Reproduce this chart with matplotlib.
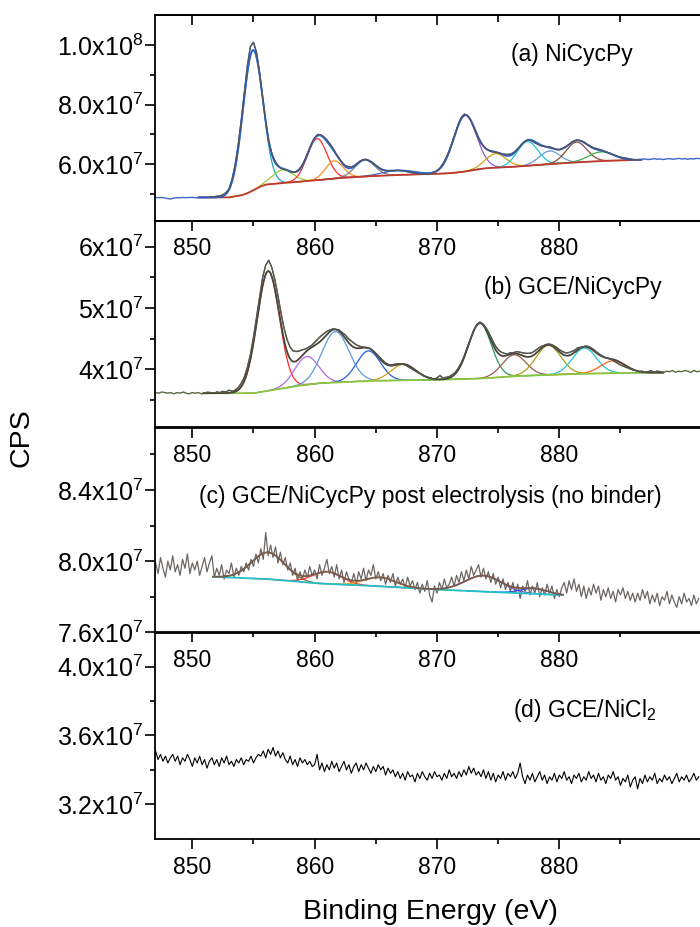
import numpy as np
import matplotlib.pyplot as plt

plt.rcParams['font.family'] = ['Liberation Sans', 'DejaVu Sans']
plt.rcParams['mathtext.fontset'] = 'custom'
plt.rcParams['mathtext.rm'] = 'Liberation Sans'
plt.rcParams['mathtext.default'] = 'regular'

# binding energy grid start (eV); all intensities in units of 1e6 CPS
e_start = 847.0
step_ab = 0.25
step_cd = 0.2

# (a) NiCycPy raw spectrum, 0.25 eV steps
raw_a = [48.9, 48.8, 48.9, 48.7, 48.5, 48.4, 48.7, 48.8, 48.8, 48.9,
         48.8, 48.9, 48.9, 48.8, 48.9, 49.0, 49.1, 49.0, 49.2, 49.1,
         49.3, 49.4, 49.8, 50.5, 51.7, 55.0, 59.8, 66.5, 74.8, 84.0,
         93.0, 99.5, 100.9, 97.5, 90.8, 82.5, 74.3, 67.6, 63.5, 61.2,
         59.6, 58.6, 58.3, 58.0, 57.4, 57.3, 57.6, 58.4, 59.8, 62.0,
         64.5, 67.0, 68.9, 70.0, 69.9, 69.2, 68.2, 66.8, 65.3, 63.6,
         62.0, 60.6, 59.6, 59.2, 59.1, 59.6, 60.4, 61.2, 61.6, 61.6,
         61.0, 60.5, 59.7, 58.9, 58.2, 57.9, 57.8, 57.9, 57.9, 58.0,
         57.9, 57.8, 57.6, 57.4, 57.2, 57.0, 56.8, 56.7, 56.7, 56.6,
         56.9, 57.4, 57.8, 58.8, 60.2, 62.2, 64.6, 67.5, 70.5, 73.5,
         75.8, 76.8, 76.3, 74.8, 72.4, 69.8, 67.7, 66.3, 65.2, 64.6,
         64.2, 64.0, 63.9, 63.6, 63.4, 63.3, 63.4, 63.9, 64.8, 65.9,
         67.0, 67.9, 68.2, 67.8, 67.2, 66.7, 66.2, 66.0, 65.9, 65.8,
         65.4, 65.0, 64.9, 65.3, 65.9, 66.5, 67.4, 67.9, 68.1, 67.9,
         67.5, 66.8, 66.2, 65.6, 65.3, 65.0, 64.7, 64.2, 63.9, 63.5,
         63.1, 62.7, 62.4, 62.2, 62.0, 61.8, 61.6, 61.5, 61.6, 61.7,
         61.8, 61.6, 61.7, 61.9, 61.7, 61.8, 61.6, 61.8, 61.9, 61.7,
         61.8, 62.0, 61.8, 61.9, 61.7, 61.9, 61.8, 62.0, 61.9]

# (b) GCE/NiCycPy raw spectrum, 0.25 eV steps
raw_b = [36.2, 36.1, 36.3, 36.2, 36.1, 36.2, 36.0, 36.2, 36.1, 36.3,
         36.1, 36.0, 36.2, 36.1, 36.2, 36.0, 36.1, 36.3, 36.2, 36.1,
         36.3, 36.2, 36.4, 36.3, 36.6, 36.4, 36.6, 37.0, 37.7, 38.7,
         40.3, 42.4, 45.2, 48.5, 51.8, 55.0, 57.0, 57.8, 56.6, 54.6,
         52.0, 49.2, 46.7, 44.8, 43.6, 43.0, 42.9, 43.0, 43.2, 43.3,
         43.6, 43.9, 44.4, 44.9, 45.4, 45.8, 46.2, 46.4, 46.6, 46.5,
         46.4, 46.0, 45.6, 45.0, 44.6, 44.2, 43.9, 43.7, 43.6, 43.5,
         43.4, 43.1, 42.6, 42.1, 41.6, 41.1, 40.8, 40.7, 40.8, 40.9,
         40.9, 40.8, 40.6, 40.3, 40.0, 39.7, 39.4, 39.2, 38.9, 38.7,
         38.6, 38.3, 38.6, 39.0, 38.5, 38.7, 38.8, 39.1, 39.5, 40.2,
         41.1, 42.3, 43.7, 45.0, 46.3, 47.3, 47.7, 47.4, 46.8, 45.9,
         44.9, 43.9, 43.2, 42.8, 42.6, 42.5, 42.7, 42.7, 42.9, 42.8,
         42.7, 42.6, 42.6, 42.7, 43.0, 43.4, 43.7, 43.9, 44.1, 44.1,
         43.9, 43.6, 43.2, 42.9, 42.7, 42.7, 42.9, 43.1, 43.5, 43.6,
         43.7, 43.8, 43.6, 43.3, 42.9, 42.5, 42.2, 41.9, 41.8, 41.6,
         41.3, 41.0, 40.7, 40.5, 40.3, 40.1, 39.9, 39.8, 39.6, 39.7,
         39.5, 39.6, 39.8, 39.5, 39.7, 39.6, 39.5, 39.7, 39.6, 39.8,
         39.5, 39.7, 39.6, 39.8, 39.7, 39.5, 39.8, 39.6, 39.7]

# (c) GCE/NiCycPy post electrolysis, 0.2 eV steps
raw_c = [79.9, 79.3, 80.2, 79.6, 79.1, 80.0, 79.5, 80.3, 79.4, 79.8,
         79.2, 80.1, 79.6, 80.4, 79.3, 79.9, 79.5, 80.0, 79.2, 79.7,
         80.2, 79.4, 79.9, 80.3, 79.1,
         79.6, 79.2, 79.8, 79.0, 79.5, 79.3, 79.9, 79.1, 79.6, 79.2,
         79.7, 79.4, 79.9,
         79.5, 80.1, 79.7, 80.4, 79.9, 80.7, 80.1, 81.6, 80.3, 80.9,
         80.2, 80.8, 79.9, 80.5, 79.8, 80.2, 79.5, 79.9,
         79.2, 79.6, 78.9, 79.4, 79.0, 79.5, 79.1, 79.7, 79.2,
         79.5, 79.0, 79.8, 79.2, 79.6, 80.1, 79.3, 79.7, 79.1, 79.8,
         79.0, 79.5, 78.8, 79.4, 79.0,
         78.8, 79.3, 78.7, 79.4, 79.0, 79.6, 78.9, 79.5, 79.2, 79.8,
         79.0, 79.4, 78.9, 79.3, 78.7, 79.2, 78.8, 79.3, 78.6, 79.1,
         78.7, 79.0, 78.5, 79.1, 78.6,
         78.9, 78.4, 78.8, 78.2, 78.7, 78.3, 78.9, 78.1, 77.7, 78.6,
         78.2, 78.8, 78.4, 79.0, 78.5,
         78.7, 79.1, 78.6, 79.2, 78.8, 79.4, 78.9, 79.5, 79.0, 79.7,
         79.2, 79.5, 79.8, 79.1, 79.6, 79.0, 79.4, 78.8, 79.3, 78.7,
         79.1, 78.5, 79.0, 78.4, 78.8,
         78.3, 78.8, 78.2, 78.7, 77.9, 78.6, 78.3, 78.9, 78.1, 78.6,
         78.2, 78.8, 78.0, 78.5, 78.1, 78.7, 78.2, 78.6, 77.9, 78.4,
         78.0, 78.5,
         78.8, 78.2, 78.9, 78.4, 79.0, 78.3, 78.7, 78.0, 78.6, 77.9,
         78.5, 78.1, 78.7, 78.2, 78.6, 77.8, 78.4, 78.0, 78.5, 77.9,
         78.3, 77.7, 78.4, 78.1, 78.5, 77.9, 78.3, 77.8, 78.2,
         77.7, 78.2, 77.8, 78.4, 77.9, 78.3, 77.6, 78.1, 77.7, 78.2,
         77.5, 78.0, 77.8, 78.3, 77.6, 78.1, 77.7, 77.4, 78.0, 77.6,
         78.2, 77.7, 77.9, 77.5, 78.1, 77.6, 77.9]

# (d) GCE/NiCl2, 0.2 eV steps
raw_d = [35.1, 34.6, 34.9, 34.5, 34.8, 34.4, 34.7, 34.9, 34.5, 34.8,
         34.3, 34.7, 34.5, 34.9, 34.6,
         34.2, 34.7, 34.4, 34.8, 34.3, 34.6, 34.1, 34.5, 34.7, 34.3,
         34.6, 34.2, 34.7, 34.4, 34.8, 34.3, 34.5, 34.2, 34.6, 34.4,
         34.7, 34.3, 34.6, 34.5, 34.8, 34.4, 34.7, 34.9,
         34.8, 35.1, 34.7, 35.2, 34.9, 35.3, 34.8, 35.1, 34.7, 35.0,
         34.6, 34.4, 34.8, 34.3, 34.6, 34.2, 34.7, 34.4, 34.6, 34.3,
         34.5, 34.2,
         34.3, 34.9, 34.0, 34.4, 33.9, 34.3, 34.0, 34.5, 34.1, 34.4,
         33.9, 34.2, 34.5, 34.0, 34.3, 33.8, 34.2, 34.4, 33.9, 34.3,
         34.0, 34.4, 34.1, 33.8, 34.2, 33.9, 34.3, 34.0, 34.2, 33.7,
         34.1, 33.8, 34.0, 33.6, 33.9,
         33.5, 33.8, 33.4, 33.9, 33.6, 33.7, 33.3, 33.8, 33.5, 33.9,
         33.6, 33.4, 33.8, 33.5, 33.9, 33.6, 33.7, 33.4, 33.8, 33.5,
         34.0, 33.6, 33.8, 33.5, 33.9, 33.6, 34.0, 33.7, 34.2, 33.8,
         34.1, 33.7, 33.9, 33.6, 34.0,
         33.5, 33.9, 33.4, 33.8, 33.3, 33.7, 33.5, 33.9, 33.4, 33.8,
         33.6, 33.9, 33.5, 33.8, 34.4, 33.6,
         33.2, 33.7, 33.4, 33.8, 33.3, 33.6, 33.9, 33.4, 33.7, 33.2,
         33.6, 33.4, 33.8, 33.3, 33.7, 33.5, 33.9, 33.4, 33.6, 33.2,
         33.7, 33.5, 33.8, 33.3, 33.6, 33.4, 33.9, 33.5, 33.7, 33.3,
         33.8, 33.4, 33.6, 33.2, 33.7, 33.5, 33.9, 33.4, 33.6, 33.1,
         33.5, 33.3, 33.7, 33.0, 33.4, 33.6, 32.9, 33.5, 33.2, 33.7,
         33.3, 33.6, 33.4, 33.8, 33.2, 33.5, 33.3, 33.7, 33.4, 33.6,
         33.2, 33.5, 33.8, 33.3, 33.6, 33.4, 33.7, 33.3, 33.5, 33.8,
         33.4, 33.6]

# fit backgrounds (knots)
bg_a_e = [850.5, 853.0, 854.0, 854.5, 855.0, 855.5, 856.0, 857.0, 858.0, 860.0,
          862.0, 864.0, 866.0, 868.0, 870.0, 871.0, 872.0, 873.0, 874.0, 876.0,
          878.0, 880.0, 882.0, 884.0, 886.7]
bg_a_v = [48.85, 48.9, 49.6, 50.3, 51.3, 52.4, 53.2, 53.6, 53.9, 54.6,
          55.4, 55.9, 56.3, 56.6, 56.8, 57.0, 57.4, 58.1, 58.7, 59.1,
          59.7, 60.3, 60.8, 61.2, 61.5]
bg_b_e = [850.9, 855.0, 856.5, 858.3, 860.2, 864.3, 870.3, 873.7, 876.5, 880.6, 884.7, 888.5]
bg_b_v = [36.1, 36.1, 36.6, 37.2, 37.7, 38.1, 38.3, 38.5, 38.9, 39.2, 39.4, 39.45]
bg_c_e = [851.7, 856.0, 860.2, 865.0, 869.7, 875.0, 880.3]
bg_c_v = [79.12, 79.0, 78.75, 78.6, 78.41, 78.25, 78.09]

# fitted peak components: centre (eV), height above background, FWHM (eV)
pk_a_center = [854.95, 857.4, 860.2, 861.6, 864.1, 866.8, 872.3, 874.8, 877.4, 879.2, 881.4, 883.4]
pk_a_height = [47.0, 4.4, 13.9, 5.9, 5.5, 1.5, 18.8, 4.7, 8.1, 4.4, 6.8, 3.1]
pk_a_fwhm = [1.9, 2.0, 1.9, 1.7, 1.9, 3.0, 2.2, 2.0, 2.0, 2.0, 2.0, 2.4]
pk_b_center = [856.2, 859.35, 861.7, 864.4, 867.25, 873.5, 876.3, 879.1, 882.05, 884.4]
pk_b_height = [19.5, 4.6, 8.3, 4.9, 2.6, 9.0, 3.5, 4.8, 4.2, 2.0]
pk_b_fwhm = [2.15, 2.3, 2.6, 2.3, 2.4, 2.2, 2.3, 2.4, 2.3, 2.4]
pk_c_center = [856.2, 861.0, 865.35, 873.8, 877.9]
pk_c_height = [1.5, 0.68, 0.5, 0.9, 0.3]
pk_c_fwhm = [3.2, 2.8, 3.0, 3.5, 2.5]

cols_a = ['#1fa3c4', '#9acd32', '#ff2f2f', '#ff8c1a', '#808080', '#4060c0',
          '#9b59d0', '#d4a017', '#20c8d8', '#6a9ad0', '#8b4a3a', '#3cb04a']
cols_b = ['#ff2a2a', '#b06ae8', '#5a9ad8', '#2060e0', '#d4a020',
          '#2e9a5a', '#9a5a4a', '#a8a020', '#20c8d8', '#ff6020']
cols_c = ['#7a6a3a', '#ff3030', '#e0a020', '#8050c0', '#3050e0']

labels = ['(a) NiCycPy', '(b) GCE/NiCycPy',
          '(c) GCE/NiCycPy post electrolysis (no binder)', '(d) GCE/NiCl$_2$']


def gauss(x, c, h, w):
    s = w / 2.3548
    return h * np.exp(-(x - c) ** 2 / (2 * s * s))


def draw_fit(ax, bg_e, bg_v, cen, hgt, fw, cols, env_col, bg_col):
    xg = np.arange(bg_e[0], bg_e[-1] + 1e-9, 0.05)
    bg = np.interp(xg, bg_e, bg_v)
    env = bg.copy()
    for c, h, w, col in zip(cen, hgt, fw, cols):
        comp = gauss(xg, c, h, w)
        env += comp
        m = np.abs(xg - c) < 2.2 * w
        ax.plot(xg[m], bg[m] + comp[m], color=col, lw=0.9)
    ax.plot(xg, bg, color=bg_col, lw=1.3)
    ax.plot(xg, env, color=env_col, lw=1.3)


fig = plt.figure(figsize=(7, 9.27), dpi=100)
left = 155 / 700
boxes = [(15.3, 220.7), (221.0, 427.7), (427.3, 632.3), (633.3, 839.0)]
axes = []
for top, bot in boxes:
    ax = fig.add_axes([left, 1 - bot / 927, 1 - left, (bot - top) / 927])
    ax.set_facecolor('none')
    axes.append(ax)

xa = e_start + step_ab * np.arange(len(raw_a))
xb = e_start + step_ab * np.arange(len(raw_b))
xc = e_start + step_cd * np.arange(len(raw_c))
xd = e_start + step_cd * np.arange(len(raw_d))
ya = np.array(raw_a)
yb = np.array(raw_b)

# (a)
ax = axes[0]
ax.plot(xa, ya, color='#3d66c8', lw=1.0)
draw_fit(ax, bg_a_e, bg_a_v, pk_a_center, pk_a_height, pk_a_fwhm, cols_a, '#2a62d4', '#c0392b')
m = (xa >= 851.5) & (xa <= 886.7)
ax.plot(xa[m], ya[m], color='#555555', lw=0.9)

# (b)
ax = axes[1]
ax.plot(xb, yb, color='#5a6a40', lw=1.0)
draw_fit(ax, bg_b_e, bg_b_v, pk_b_center, pk_b_height, pk_b_fwhm, cols_b, '#4a4538', '#8cc63f')
m = (xb >= 852.0) & (xb <= 888.5)
ax.plot(xb[m], yb[m], color='#555555', lw=0.9)

# (c)
ax = axes[2]
ax.plot(xc, raw_c, color='#6b6663', lw=0.9)
draw_fit(ax, bg_c_e, bg_c_v, pk_c_center, pk_c_height, pk_c_fwhm, cols_c, '#7a5a4a', '#20c0c8')

# (d)
axes[3].plot(xd, raw_d, color='black', lw=0.8)

ylims = [(41.1, 109.95), (30.47, 64.2), (76.0, 87.52), (29.98, 41.94)]
yticks = [[60, 80, 100], [40, 50, 60], [76, 80, 84], [32, 36, 40]]
ylabels = [['6.0x10$^{7}$', '8.0x10$^{7}$', '1.0x10$^{8}$'],
           ['4x10$^{7}$', '5x10$^{7}$', '6x10$^{7}$'],
           ['7.6x10$^{7}$', '8.0x10$^{7}$', '8.4x10$^{7}$'],
           ['3.2x10$^{7}$', '3.6x10$^{7}$', '4.0x10$^{7}$']]
yminor = [[50, 70, 90], [35, 45, 55], [78, 82, 86], [34, 38]]
text_pos = [(0.877, 0.81), (0.930, 0.676), (0.930, 0.66), (0.920, 0.627)]

for i, ax in enumerate(axes):
    ax.set_xlim(846.95, 891.5)
    ax.set_ylim(*ylims[i])
    ax.set_xticks([850, 860, 870, 880])
    ax.set_xticks([855, 865, 875, 885], minor=True)
    ax.set_yticks(yticks[i])
    ax.set_yticklabels(ylabels[i])
    ax.set_yticks(yminor[i], minor=True)
    ax.spines['right'].set_visible(False)
    for s in ['top', 'left', 'bottom']:
        ax.spines[s].set_linewidth(1.3)
    ax.tick_params(which='major', direction='out', length=7, width=1.2)
    ax.tick_params(which='minor', direction='out', length=3.6, width=1.2)
    ax.tick_params(axis='x', which='major', pad=5, labelsize=16.5)
    ax.tick_params(axis='y', which='major', pad=1.5, labelsize=18)
    ax.text(text_pos[i][0], text_pos[i][1], labels[i], transform=ax.transAxes,
            ha='right', va='center', fontsize=16.5)

sec = axes[0].secondary_xaxis('top')
sec.set_xticks([850, 860, 870, 880])
sec.set_xticks([855, 865, 875, 885], minor=True)
sec.tick_params(which='major', direction='in', length=7, width=1.2, labeltop=False)
sec.tick_params(which='minor', direction='in', length=5, width=1.2)
sec.spines['top'].set_linewidth(1.3)

fig.text(0.615, 1 - 919.3 / 927, 'Binding Energy (eV)', ha='center', va='baseline', fontsize=20.5)
fig.text(0.031, 0.5275, 'CPS', rotation=90, ha='center', va='center', fontsize=20.5)

fig.savefig('out.png', dpi=100)
